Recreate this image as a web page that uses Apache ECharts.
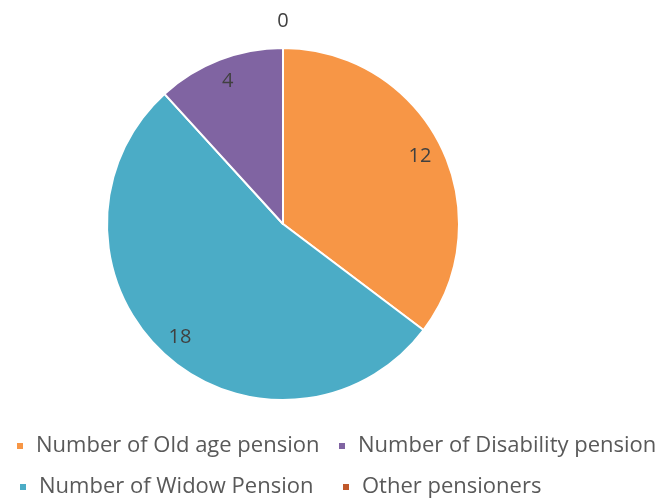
<!DOCTYPE html>
<html><head><meta charset="utf-8">
<script src="https://cdn.jsdelivr.net/npm/echarts@6/dist/echarts.min.js"></script>
<style>html,body{margin:0;padding:0;background:#fff}#c{width:664px;height:498px}</style>
</head><body><div id="c"></div>
<script>
var categories = ['Number of Old age pension', 'Number of Widow Pension', 'Number of Disability pension', 'Other pensioners'];
var values = [12, 18, 4, 0];
var colors = ['#F79646', '#4BACC6', '#8064A2', '#C0582A'];

var FONT = '"Open Sans", "Liberation Sans", sans-serif';
var data = categories.map(function (c, i) { return { name: c, value: values[i], itemStyle: { color: colors[i] } }; });
var center = [283, 224];
var R = 176;

function ghost(showFn) {
  return categories.map(function (c, i) {
    return { name: c, value: values[i], label: { show: showFn(i) } };
  });
}
var legendPos = [[15, 446], [18, 487], [337, 446], [341, 487]];
function legendFor(i) {
  return { data: [categories[i]], left: legendPos[i][0], top: legendPos[i][1] - 12, itemWidth: 8, itemHeight: 8, icon: 'rect',
    padding: 0, selectedMode: false,
    textStyle: { fontFamily: FONT, fontSize: 22, lineHeight: 24, color: '#595959', padding: [0, 0, 0, 7] } };
}

var chart = echarts.init(document.getElementById('c'), null, { renderer: 'canvas' });
chart.setOption({
  animation: false,
  backgroundColor: '#ffffff',
  legend: [legendFor(0), legendFor(1), legendFor(2), legendFor(3)],
  series: [
    { type: 'pie', center: center, radius: [0, R], startAngle: 90, clockwise: true, silent: true,
      itemStyle: { borderColor: '#ffffff', borderWidth: 2 }, label: { show: false }, labelLine: { show: false },
      data: data },
    { type: 'pie', center: center, radius: [100, 200], startAngle: 90, clockwise: true, silent: true,
      itemStyle: { color: 'rgba(0,0,0,0)' }, legendHoverLink: false,
      label: { position: 'inside', formatter: '{c}', fontFamily: FONT, fontSize: 20, color: '#404040' },
      labelLine: { show: false },
      data: ghost(function (i) { return values[i] !== 0; }) },
    { type: 'pie', center: center, radius: [190, 210], startAngle: 90, clockwise: true, silent: true,
      itemStyle: { color: 'rgba(0,0,0,0)' }, legendHoverLink: false,
      label: { position: 'inside', formatter: '{c}', fontFamily: FONT, fontSize: 20, color: '#404040' },
      labelLine: { show: false },
      data: ghost(function (i) { return values[i] === 0; }) }
  ]
});
</script></body></html>
